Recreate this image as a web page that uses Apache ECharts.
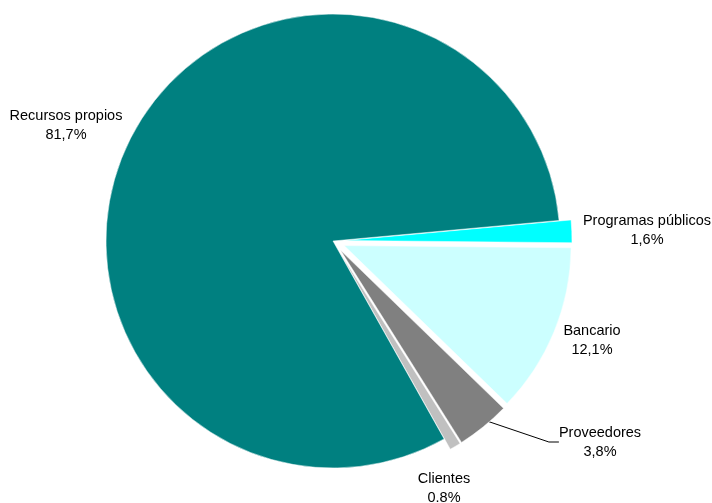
<!DOCTYPE html>
<html>
<head>
<meta charset="utf-8">
<script src="https://cdn.jsdelivr.net/npm/echarts@6/dist/echarts.min.js"></script>
<style>
  html, body { margin: 0; padding: 0; background: #ffffff; }
  #chart { width: 712px; height: 503px; }
</style>
</head>
<body>
<div id="chart"></div>
<script>
// Fuentes de financiamiento (%)
const categories = ['Programas públicos', 'Bancario', 'Proveedores', 'Clientes', 'Recursos propios'];
const values = [1.6, 12.1, 3.8, 0.8, 81.7];
const valueLabels = ['1,6%', '12,1%', '3,8%', '0.8%', '81,7%'];
const sliceColors = ['#00FFFF', '#CCFFFF', '#808080', '#C0C0C0', '#008080'];

// label anchor points (centre of each text block)
const labelSpots = [[647, 230], [592, 340], [600, 442], [444, 488], [66, 125]];

const chart = echarts.init(document.getElementById('chart'), null, { renderer: 'canvas' });

const pieCenter = [333, 241];
const pieRadius = [0, 227];
const pieStart = 5.2;

// visible wedges: every slice except the largest is pulled out
const wedgeData = categories.map((name, i) => ({
  name: name,
  value: values[i],
  selected: name !== 'Recursos propios',
  itemStyle: { color: sliceColors[i] }
}));

// transparent twin pie that carries the text labels
const labelData = categories.map((name, i) => ({
  name: name,
  value: values[i],
  labelLine: { show: name === 'Proveedores' }
}));

chart.setOption({
  backgroundColor: '#ffffff',
  animation: false,
  series: [
    {
      type: 'pie',
      center: pieCenter,
      radius: pieRadius,
      startAngle: pieStart,
      clockwise: true,
      selectedMode: 'multiple',
      selectedOffset: 12,
      silent: true,
      itemStyle: { borderColor: '#ffffff', borderWidth: 0.5 },
      label: { show: false },
      labelLine: { show: false },
      emphasis: { disabled: true },
      data: wedgeData
    },
    {
      type: 'pie',
      center: pieCenter,
      radius: pieRadius,
      startAngle: pieStart,
      clockwise: true,
      selectedMode: false,
      silent: true,
      avoidLabelOverlap: false,
      itemStyle: { color: 'rgba(0,0,0,0)', borderWidth: 0 },
      label: {
        show: true,
        position: 'outside',
        color: '#000000',
        fontFamily: 'Liberation Sans, Arial, sans-serif',
        fontSize: 14.5,
        lineHeight: 19,
        align: 'center',
        formatter: p => p.name + '\n' + valueLabels[p.dataIndex]
      },
      labelLine: {
        show: false,
        length: 40,
        length2: 10,
        lineStyle: { color: '#000000', width: 1 }
      },
      labelLayout: function (params) {
        const s = labelSpots[params.dataIndex];
        return { x: s[0], y: s[1], align: 'center', verticalAlign: 'middle' };
      },
      emphasis: { disabled: true },
      data: labelData
    }
  ]
});
</script>
</body>
</html>
